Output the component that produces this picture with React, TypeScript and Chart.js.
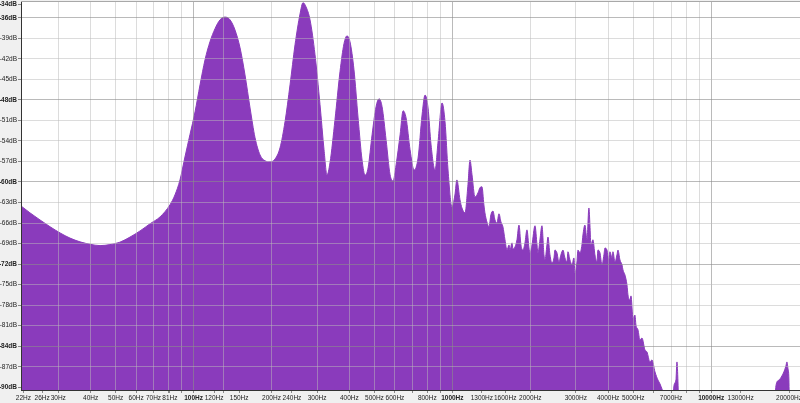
import React, { useEffect, useRef } from 'react';
import { Chart, registerables } from 'chart.js';

Chart.register(...registerables);

// Spectrum data (Hz / dB)
const bassFreqHz = [21.53, 23.3, 25.5, 27.9, 30.5, 33.3, 36.4, 39.8, 43.5, 47.5, 51.9, 56.8, 62.1, 67.9, 74.2, 81.0, 84.7, 88.6];
const bassDb = [-63.5, -64.5, -65.55, -66.55, -67.45, -68.2, -68.75, -69.1, -69.3, -69.15, -68.8, -68.05, -67.15, -66.1, -65.1, -63.35, -61.9, -59.7];

const harmonicFreqHz = [
  92.6, 96.8, 101.3, 105.9, 110.7, 115.7, 121.0, 126.5, 132.3, 138.3, 144.6, 151.2, 158.0, 165.3, 172.8, 180.6, 188.8, 197.4,
  206.4, 215.8, 225.6, 235.9, 246.6, 257.8, 264.8, 271.9, 281.8, 294.6, 308.0, 319.2, 327.8, 336.6, 351.9, 367.9, 381.2, 391.5,
  402.1, 416.7, 432.2, 447.8, 459.9, 472.4, 489.5, 507.2, 521.0, 535.0, 554.5, 574.5, 590.1, 606.1, 628.1, 645.1, 662.5, 686.4,
  711.3, 737.0, 763.7, 784.3, 805.5, 827.3, 857.1, 880.3, 912.2, 936.8, 962.1, 996.5,
];
const harmonicDb = [
  -56.35, -53.1, -49.75, -45.8, -42.15, -39.5, -37.6, -36.3, -35.9, -36.3, -37.8, -40.4, -44.35, -49.2, -53.55, -56.05, -56.9, -57.05,
  -56.65, -55.0, -51.2, -45.8, -39.95, -35.45, -33.8, -34.4, -36.3, -41.4, -48.7, -55.3, -58.95, -57.2, -50.9, -43.9, -39.8, -38.65,
  -39.5, -43.6, -50.65, -56.8, -59.0, -57.95, -53.1, -49.0, -47.85, -49.0, -53.85, -58.95, -59.85, -57.5, -53.1, -49.6, -50.65, -55.3,
  -58.25, -56.5, -50.2, -47.3, -49.2, -54.6, -58.25, -54.15, -48.45, -51.2, -58.25, -63.65,
];

const trebleFreqHz = [
  1023, 1041, 1070, 1089, 1119, 1149, 1170, 1191, 1223, 1256, 1278, 1301, 1324, 1336, 1360, 1385, 1409, 1435, 1461, 1487,
  1514, 1541, 1568, 1597, 1626, 1655, 1670, 1700, 1715, 1746, 1777, 1809, 1841, 1874, 1908, 1942, 1977, 1995, 2031, 2086,
  2124, 2143, 2180, 2219, 2259, 2279, 2320, 2341, 2383, 2426, 2470, 2491, 2536, 2581, 2627, 2675, 2723, 2772, 2797, 2847,
  2898, 2950, 2976, 3030, 3057, 3112, 3168, 3196, 3253, 3312, 3371, 3401, 3431, 3493, 3556, 3620, 3652, 3718, 3785, 3853,
  3887, 3957, 4028, 4064, 4137, 4174, 4249, 4326, 4364, 4443, 4523, 4563, 4645, 4729, 4771, 4857, 4900, 4989, 5077, 5122,
  5215, 5308, 5403, 5550, 5650, 5802, 5906, 6066, 6230, 6342, 6456, 6572, 6631,
];
const trebleDb = [
  -61.9, -59.7, -62.6, -63.8, -64.5, -60.4, -56.8, -58.95, -62.2, -61.6, -60.85, -60.7, -63.35, -64.5, -65.85, -66.55, -64.8, -64.25, -65.55, -66.0,
  -64.65, -65.85, -66.55, -68.45, -69.95, -69.2, -69.95, -68.9, -69.8, -69.5, -68.45, -66.3, -69.2, -69.95, -68.9, -67.0, -69.65, -70.35, -69.2, -66.4,
  -69.2, -70.35, -68.45, -66.4, -70.65, -71.4, -69.2, -68.05, -70.65, -71.85, -71.1, -69.95, -70.35, -71.7, -70.65, -69.95, -71.1, -71.7, -70.2, -71.4,
  -72.1, -71.1, -73.3, -71.7, -69.95, -70.35, -69.2, -67.75, -66.3, -68.45, -63.8, -66.3, -69.2, -68.45, -70.65, -71.7, -69.95, -70.35, -72.1, -70.65,
  -69.65, -69.95, -71.4, -70.2, -71.1, -70.2, -71.7, -70.65, -69.95, -71.4, -72.1, -72.85, -73.6, -75.05, -76.5, -77.25, -76.65, -79.9, -79.45, -80.9,
  -81.6, -83.1, -82.8, -84.55, -84.85, -86.3, -86.0, -87.75, -88.95, -89.5, -90.25, -92, -100,
];

const airFreqHz = [6932, 7184, 7313, 7378, 7444, 7577, 17330, 17800, 18280, 18770, 19110, 19450, 19630, 19800, 19980, 20160, 22050];
const airDb = [-100, -89.8, -88.9, -86.3, -89.2, -100, -100, -89.8, -88.95, -88.35, -87.75, -86.9, -86.3, -87.2, -88.95, -100, -100];

// Axis ticks
const xLabelHz = [22, 26, 30, 40, 50, 60, 70, 81, 100, 120, 150, 200, 240, 300, 400, 500, 600, 800, 1000, 1300, 1600, 2000, 3000, 4000, 5000, 7000, 10000, 13000, 20000];
const xGridHz = [30, 40, 50, 60, 70, 80, 90, 100, 130, 200, 300, 400, 500, 600, 700, 800, 900, 1000, 2000, 3000, 4000, 5000, 6000, 7000, 8000, 9000, 10000];
const xMajorHz = [100, 1000, 10000];
const yTickDb = [-90, -87, -84, -81, -78, -75, -72, -69, -66, -63, -60, -57, -54, -51, -48, -45, -42, -39, -36, -34];
const yMajorDb = [-90, -84, -72, -60, -48, -36, -34];

const PURPLE = 'rgb(138,59,188)';
const FONT_FAMILY = '"Liberation Sans", Arial, sans-serif';
const GRID_MINOR = 'rgba(185,185,185,0.5)';
const GRID_MAJOR = 'rgba(140,140,140,0.6)';
const NONE = 'rgba(0,0,0,0)';

export default function App() {
  const ref = useRef<HTMLCanvasElement>(null);

  useEffect(() => {
    if (!ref.current) return;
    const freqHz = [...bassFreqHz, ...harmonicFreqHz, ...trebleFreqHz, ...airFreqHz];
    const levelDb = [...bassDb, ...harmonicDb, ...trebleDb, ...airDb];
    const data = freqHz.map((x, i) => ({ x, y: levelDb[i] }));
    const xTicks = Array.from(new Set([...xLabelHz, ...xGridHz])).sort((a, b) => a - b);

    const plotFrame = {
      id: 'plotFrame',
      beforeDraw(chart: any) {
        const { ctx, chartArea: a } = chart;
        ctx.save();
        ctx.fillStyle = '#ffffff';
        ctx.fillRect(a.left, a.top, a.right - a.left, a.bottom - a.top);
        ctx.restore();
      },
      afterDraw(chart: any) {
        const { ctx, chartArea: a } = chart;
        ctx.save();
        ctx.strokeStyle = '#a8a8a8';
        ctx.lineWidth = 1;
        ctx.beginPath();
        ctx.moveTo(a.left, a.top + 0.5);
        ctx.lineTo(a.right, a.top + 0.5);
        ctx.stroke();
        ctx.restore();
      },
    };

    const chart = new Chart(ref.current, {
      type: 'line',
      data: {
        datasets: [
          {
            data,
            fill: 'start',
            backgroundColor: PURPLE,
            borderColor: PURPLE,
            borderWidth: 1,
            pointRadius: 0,
            cubicInterpolationMode: 'monotone',
          } as any,
        ],
      },
      options: {
        animation: false,
        responsive: true,
        maintainAspectRatio: false,
        layout: { padding: { top: 1, left: 0, right: 0, bottom: 0 } },
        plugins: { legend: { display: false }, tooltip: { enabled: false } },
        scales: {
          x: {
            type: 'logarithmic',
            min: 21.53,
            max: 22050,
            afterBuildTicks: (s: any) => {
              s.ticks = xTicks.map((v) => ({ value: v }));
            },
            afterFit: (s: any) => {
              s.height = 13;
              s.paddingLeft = 0;
              s.paddingRight = 0;
            },
            ticks: {
              autoSkip: false,
              maxRotation: 0,
              minRotation: 0,
              padding: 1,
              color: '#222',
              font: (ctx: any) => ({
                family: FONT_FAMILY,
                size: 6.5,
                weight: ctx.tick && xMajorHz.includes(ctx.tick.value) ? 'bold' : 'normal',
              }),
              callback: (v: any) => (xLabelHz.includes(Number(v)) ? `${v}Hz` : ''),
            },
            grid: {
              z: 1,
              tickLength: 3,
              color: (ctx: any) => {
                const v = ctx.tick ? ctx.tick.value : null;
                if (xMajorHz.includes(v)) return GRID_MAJOR;
                if (xGridHz.includes(v)) return GRID_MINOR;
                return NONE;
              },
              tickColor: '#888',
            },
            border: { z: 2, color: '#333' },
          } as any,
          y: {
            min: -90.4,
            max: -33.55,
            afterBuildTicks: (s: any) => {
              s.ticks = yTickDb.map((v) => ({ value: v }));
            },
            afterFit: (s: any) => {
              s.width = 21;
              s.paddingTop = 0;
              s.paddingBottom = 0;
            },
            ticks: {
              padding: 1,
              color: '#222',
              font: (ctx: any) => ({
                family: FONT_FAMILY,
                size: 6.5,
                weight: ctx.tick && yMajorDb.includes(ctx.tick.value) ? 'bold' : 'normal',
              }),
              callback: (v: any) => `${v}dB`,
            },
            grid: {
              z: 1,
              tickLength: 3,
              color: (ctx: any) => {
                const v = ctx.tick ? ctx.tick.value : null;
                if (v === -90 || v === -34) return NONE;
                if (yMajorDb.includes(v)) return GRID_MAJOR;
                return GRID_MINOR;
              },
              tickColor: '#888',
            },
            border: { z: 2, color: '#333' },
          } as any,
        },
      },
      plugins: [plotFrame],
    });

    return () => chart.destroy();
  }, []);

  return (
    <div style={{ position: 'fixed', left: 0, top: 0, width: 800, height: 403, background: '#f0f0f0' }}>
      <canvas ref={ref} />
    </div>
  );
}
